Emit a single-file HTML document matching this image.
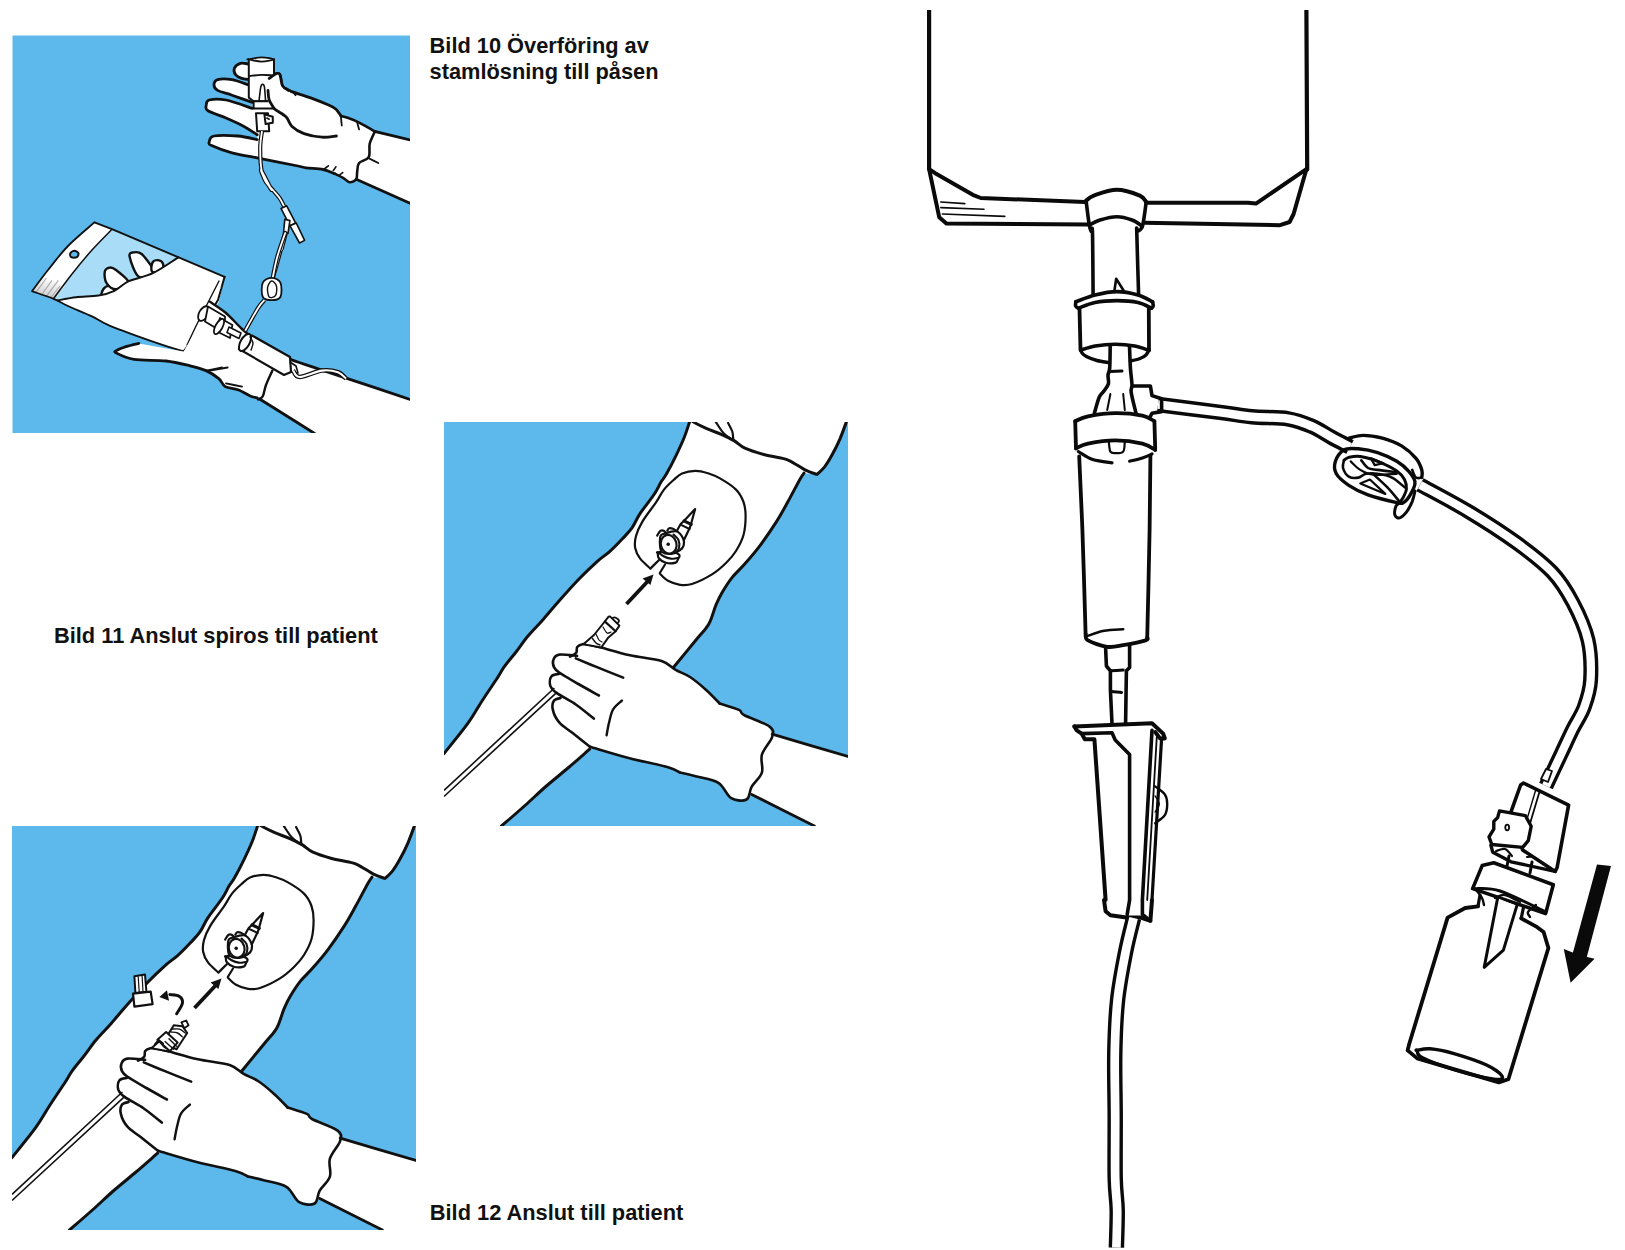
<!DOCTYPE html>
<html><head><meta charset="utf-8">
<style>
html,body{margin:0;padding:0;background:#fff;width:1625px;height:1250px;overflow:hidden;}
.t{position:absolute;font-family:"Liberation Sans",sans-serif;font-weight:bold;font-size:21.8px;color:#111;white-space:nowrap;line-height:25.6px;}
svg{position:absolute;left:0;top:0;}
</style></head><body>
<div class="t" style="left:429.6px;top:33px;">Bild 10 Överföring av<br>stamlösning till påsen</div>
<div class="t" style="left:54px;top:622.5px;">Bild 11 Anslut spiros till patient</div>
<div class="t" style="left:429.8px;top:1200.3px;">Bild 12 Anslut till patient</div>
<svg width="1625" height="1250" viewBox="0 0 1625 1250">
<defs>
<clipPath id="c2"><rect x="444" y="422" width="404" height="404"/></clipPath>
<g id="arm">
<rect x="444" y="422" width="404" height="404" fill="#5db9ec"/>
<g clip-path="url(#c2)">
<path fill="#fff" d="M691 418 L689.6 422 L684 438 L676 455.6 L666.4 474 L661 482 L654.4 494 L640 513.6 L632 527.9 L622.4 538.8 L609.6 551.6 L596.8 561.8 L579.5 578.5 L559.2 600.8 L543.2 619.4 L528 636 L516 652 L504 667.2 L496 680 L482 701 L468 723.2 L444 753.6 L440 760 L440 830 L501.6 830 L501.5 826 L525 805.5 L546.4 786 L568 768 L589.6 749.2 L673.6 667.2 L696 640 L708.8 624 L716 604.8 L722.4 592 L732 577.6 L744 564.8 L760 545.6 L776 522.4 L788 501.6 L800 479.2 L804 473.2 L817 474.4 L824.4 467.1 L831.7 455.6 L840 438.8 L846.3 422.1 L848 418 L690 418Z"/>
<path fill="#fff" d="M570 656.6 L576.2 652.8 L577.2 647 L582.5 644.2 L589.2 644.6 L601.2 647.5 L630 655.2 L661.6 661 L675.7 669.9 L690 677 L705.6 689.4 L719.7 703.5 L738.9 709.9 L744 715 L769.6 726.6 L772.2 736.8 L772.2 734.2 L848 756.5 L852 756.5 L852 830 L814.4 830 L814.4 826 L751.7 794.4 L746.6 799.5 L731.2 798.2 L718.4 782.9 L696.6 776.5 L680 772.6 L668 767.2 L629.6 758.2 L589.9 746.7 L572 732.6 L559.2 722.4 L552.8 709.6 L554.1 700.6 L560.5 698.1 L556.6 692.9 L550.2 685.3 L551.5 676.3 L559.2 673.8 L559.2 672.5 L554.1 667.4 L553.4 659.7 L559.2 654.6 L577.1 655.8Z"/>
<path fill="none" stroke="#111" stroke-width="3" stroke-linecap="round" stroke-linejoin="round" d="M691 418C690.8 418.7 690.8 418.7 689.6 422C688.4 425.3 686.3 432.4 684 438C681.7 443.6 678.9 449.6 676 455.6C673.1 461.6 668.9 469.6 666.4 474C663.9 478.4 663 478.7 661 482C659 485.3 657.9 488.7 654.4 494C650.9 499.3 643.7 508 640 513.6C636.3 519.2 634.9 523.7 632 527.9C629.1 532.1 626.1 534.8 622.4 538.8C618.7 542.8 613.9 547.8 609.6 551.6C605.3 555.4 601.8 557.3 596.8 561.8C591.8 566.3 585.8 572 579.5 578.5C573.2 585 565.2 594 559.2 600.8C553.2 607.6 548.4 613.5 543.2 619.4C538 625.3 532.5 630.6 528 636C523.5 641.4 520 646.8 516 652C512 657.2 507.3 662.5 504 667.2C500.7 671.9 499.7 674.4 496 680C492.3 685.6 486.7 693.8 482 701C477.3 708.2 474.3 714.4 468 723.2C461.7 732 448 748.5 444 753.6M501.5 826C505.4 822.6 517.5 812.2 525 805.5C532.5 798.8 539.2 792.2 546.4 786C553.6 779.8 560.8 774.1 568 768C575.2 761.9 586 752.3 589.6 749.2M673.6 667.2C677.3 662.7 690.1 647.2 696 640C701.9 632.8 705.5 629.9 708.8 624C712.1 618.1 713.7 610.1 716 604.8C718.3 599.5 719.7 596.5 722.4 592C725.1 587.5 728.4 582.1 732 577.6C735.6 573.1 739.3 570.1 744 564.8C748.7 559.5 754.7 552.7 760 545.6C765.3 538.5 771.3 529.7 776 522.4C780.7 515.1 784 508.8 788 501.6C792 494.4 797.3 483.9 800 479.2C802.7 474.5 803.3 474.2 804 473.2M690 418C690.6 418.7 690.9 420.4 693.6 422.1C696.3 423.8 701.5 426.3 706.2 428.4C710.9 430.5 717.1 432.5 721.8 434.6C726.5 436.7 730.5 438.6 734.4 440.9C738.2 443.2 740 445.9 744.9 448.2C749.8 450.5 758 452.9 763.7 454.5C769.5 456.1 775 456.6 779.4 457.7C783.8 458.8 785.4 458.7 789.8 460.8C794.1 462.9 801 467.9 805.5 470.2C810 472.5 815.1 473.7 817 474.4C818.2 473.2 821.9 470.2 824.4 467.1C826.9 464 829.1 460.3 831.7 455.6C834.3 450.9 837.6 444.4 840 438.8C842.4 433.2 845 425.7 846.3 422.1C847.6 418.5 847.7 417.9 848 417"/>
<path fill="none" stroke="#111" stroke-width="2.2" stroke-linecap="round" stroke-linejoin="round" d="M715.6 421.6C717 423.6 721.1 430.6 723.9 433.6C726.7 436.7 730.9 438.8 732.3 439.9M728.1 423.1C728.8 424.5 731.4 428.7 732.3 431.5C733.2 434.3 733.1 438.5 733.3 439.9M650.4 568.6C648.7 566.9 642.5 561.8 640 558.4C637.5 555 635.9 551.7 635.2 548C634.5 544.3 634.8 540.4 636 536C637.2 531.6 639.1 527.2 642.4 521.6C645.7 516 652.4 507.7 656 502.4C659.6 497.1 661.1 493.3 664 489.6C666.9 485.9 670.6 482.7 673.6 480C676.6 477.3 678.4 475.1 682 473.6C685.6 472.1 690.9 470.9 695.2 470.8C699.5 470.7 703.9 471.9 708 473.2C712.1 474.5 715.3 475.7 720 478.4C724.7 481.1 732.1 485.7 736 489.6C739.9 493.5 741.9 497.6 743.5 502C745.1 506.4 745.6 510.5 745.6 516C745.6 521.5 745.1 529.2 743.5 535C741.9 540.8 738.9 546.3 736 551C733.1 555.7 730 559.1 726 563C722 566.9 717.7 570.9 712 574.4C706.3 577.9 697.3 582.3 692 584C686.7 585.7 684 585.3 680 584.8C676 584.3 671.3 582.6 668 580.8C664.7 579 661.3 575 660 573.8M650.4 568.6C651.8 567.2 657.4 561.6 658.8 560.2M659.8 573.1C660.7 571.7 664.1 565.9 665 564.5"/>
<path fill="none" stroke="#111" stroke-width="2.6" stroke-linecap="round" stroke-linejoin="round" d="M570 656.6C571 656 575 654.4 576.2 652.8C577.4 651.2 576.2 648.4 577.2 647C578.2 645.6 580.5 644.6 582.5 644.2C584.5 643.8 586.1 644.1 589.2 644.6C592.3 645.1 594.4 645.7 601.2 647.5C608 649.3 619.9 653 630 655.2C640.1 657.5 654 658.5 661.6 661C669.2 663.5 671 667.2 675.7 669.9C680.4 672.6 685 673.8 690 677C695 680.2 700.6 685 705.6 689.4C710.6 693.8 717.4 701.1 719.7 703.5"/>
<path fill="none" stroke="#111" stroke-width="2.6" stroke-linecap="round" stroke-linejoin="round" d="M719.7 703.5C722.9 704.6 734.9 708 738.9 709.9C742.9 711.8 738.9 712.2 744 715C749.1 717.8 764.9 723 769.6 726.6C774.3 730.2 773.5 732.1 772.2 736.8C770.9 741.5 763.6 748.7 761.9 754.7C760.2 760.7 763.6 767.3 761.9 772.6C760.2 777.9 754.2 782.2 751.7 786.7C749.2 791.2 750 797.6 746.6 799.5C743.2 801.4 735.9 801 731.2 798.2C726.5 795.4 724.2 786.5 718.4 782.9C712.6 779.3 703 778.2 696.6 776.5C690.2 774.8 682.8 773.2 680 772.6"/>
<path fill="none" stroke="#111" stroke-width="2.6" stroke-linecap="round" stroke-linejoin="round" d="M680 772.6C678 771.7 676.4 769.6 668 767.2C659.6 764.8 642.6 761.6 629.6 758.2C616.6 754.8 596.5 748.6 589.9 746.7"/>
<path fill="none" stroke="#111" stroke-width="2.6" stroke-linecap="round" stroke-linejoin="round" d="M560.5 698.1C559.4 698.5 555.4 698.7 554.1 700.6C552.8 702.5 551.9 706 552.8 709.6C553.6 713.2 556 718.6 559.2 722.4C562.4 726.2 566.9 728.5 572 732.6C577.1 736.7 586.9 744.4 589.9 746.7"/>
<path fill="none" stroke="#111" stroke-width="2.6" stroke-linecap="round" stroke-linejoin="round" d="M559.2 673.8C557.9 674.2 553 674.4 551.5 676.3C550 678.2 549.4 682.5 550.2 685.3C551.1 688.1 552.3 689.7 556.6 692.9C560.9 696.1 569.6 700.2 575.8 704.5C582 708.8 590.8 716.2 593.8 718.6"/>
<path fill="none" stroke="#111" stroke-width="2.6" stroke-linecap="round" stroke-linejoin="round" d="M577.1 655.8C574.1 655.6 563.2 654 559.2 654.6C555.2 655.2 554.2 657.6 553.4 659.7C552.5 661.8 553.1 665.3 554.1 667.4C555.1 669.5 555.2 669.7 559.2 672.5C563.2 675.3 571.8 680.2 578.4 684C585 687.8 595.5 693.6 598.9 695.5"/>
<path fill="none" stroke="#111" stroke-width="2.6" stroke-linecap="round" stroke-linejoin="round" d="M575.8 658.4C579.4 659.9 589.7 664.2 597.6 667.4C605.5 670.6 618.9 675.9 623.2 677.6"/>
<path fill="none" stroke="#111" stroke-width="2.4" stroke-linecap="round" stroke-linejoin="round" d="M621.9 700.6C620.4 702.1 615.1 706 613 709.6C610.9 713.2 610.2 718.1 609.1 722.4C608 726.7 607 733.1 606.6 735.2"/>
<path fill="none" stroke="#111" stroke-width="2.8" stroke-linecap="round" stroke-linejoin="round" d="M772.2 734.2C784.8 737.9 835.4 752.8 848 756.5"/>
<path fill="none" stroke="#111" stroke-width="2.8" stroke-linecap="round" stroke-linejoin="round" d="M751.7 794.4C762.2 799.7 804 820.7 814.4 826"/>
<path fill="none" stroke="#111" stroke-width="1.6" d="M444 790.4 L554.4 688M444 796.5 L556 693.1"/>
<path fill="none" stroke="#111" stroke-width="3.8" stroke-linecap="butt" stroke-linejoin="round" d="M626.5 604 L647.8 581.3"/>
<path fill="#111" d="M653.5 574.6 L642.6 578.4 L650.4 585Z"/>
<path fill="#fff" stroke="#111" stroke-width="2.2" stroke-linecap="round" stroke-linejoin="round" d="M676.9 530.7 L680.7 524 L684.6 520.2 L695.1 509.1 L691.3 523 L689.8 527.8 L683.6 540.8Z"/>
<path fill="none" stroke="#111" stroke-width="3" stroke-linecap="round" stroke-linejoin="round" d="M684 520.8 L691.3 524.4"/>
<path fill="none" stroke="#111" stroke-width="2" stroke-linecap="round" stroke-linejoin="round" d="M681 524.8 L689.6 529"/>
<path fill="#fff" stroke="#111" stroke-width="2.2" stroke-linecap="round" stroke-linejoin="round" d="M657.8 552.5C658 553.5 657.3 556.5 658.8 558.2C660.2 560 663.7 562.3 666.5 563C669.3 563.7 673.7 563.2 675.6 562.6C677.5 562 677.4 560.5 678 559.2C678.6 557.9 680.7 556 679 554.6C677.3 553.2 671.5 551.4 668 551C664.5 550.6 659.5 552.2 657.8 552.5C656.1 552.8 657.6 551.5 657.8 552.5Z"/>
<path fill="none" stroke="#111" stroke-width="2.2" stroke-linecap="round" stroke-linejoin="round" d="M658.8 552.8C659.6 553.4 661.6 555.3 663.6 556.3C665.6 557.3 668.5 558.4 670.8 558.7C673.1 559 676.4 558.1 677.5 558"/>
<path fill="#fff" stroke="#111" stroke-width="2.2" stroke-linecap="round" stroke-linejoin="round" d="M660.6 536C661.3 534.1 661.8 534.4 664.4 533.6C667 532.8 673.3 530.4 676.4 531.2C679.5 532 681.9 536 683.1 538.4C684.3 540.8 684.2 543.6 683.6 545.6C683 547.6 681.8 549 679.8 550.4C677.8 551.8 674.6 553.5 671.6 553.8C668.6 554.1 663.9 553.5 662 552C660.1 550.5 660.2 547.7 660 545C659.8 542.3 659.9 537.9 660.6 536Z"/>
<path fill="none" stroke="#111" stroke-width="2.2" stroke-linecap="round" stroke-linejoin="round" d="M657.2 535.5C657.8 534.7 659.4 531.4 660.6 530.7C661.8 530 663.5 530.6 664.4 531.2C665.3 531.8 665.6 533.6 665.8 534.1"/>
<path fill="none" stroke="#111" stroke-width="2.2" stroke-linecap="round" stroke-linejoin="round" d="M667.3 530.7C667.6 530.3 668.2 528.6 669.2 528.3C670.2 528 671.7 528.3 673 528.8C674.3 529.3 676.2 530.8 676.9 531.2"/>
<ellipse cx="668.7" cy="544.2" rx="7.8" ry="9.4" transform="rotate(-15 668.7 544.2)" fill="#fff" stroke="#111" stroke-width="2.2"/>
<path fill="none" stroke="#111" stroke-width="2" stroke-linecap="round" stroke-linejoin="round" d="M673.5 534.5C674.3 535.4 677.6 537.8 678.5 540C679.4 542.2 679.6 545.8 679 548C678.4 550.2 675.7 552.2 675 553"/>
<circle cx="668.2" cy="544.2" r="1.8" fill="#111"/>
<path fill="#fff" stroke="#111" stroke-width="2" stroke-linecap="round" stroke-linejoin="round" d="M583.4 644.2 L594 635 L603.6 623 L608.4 616.8 L610 616.4 L619.4 625.6 L619 626.4 L615.6 631.2 L608.4 637.4 L601.2 647.5Z"/>
<path fill="none" stroke="#111" stroke-width="2.2" stroke-linecap="round" stroke-linejoin="round" d="M605 621.6 L615.6 631.2"/>
<path fill="none" stroke="#111" stroke-width="1.8" stroke-linecap="round" stroke-linejoin="round" d="M612.3 618.2C612.7 618.1 613.6 617.1 614.6 617.3C615.6 617.5 617.3 618.6 618 619.2C618.7 619.8 619.1 620.5 619 621.1C618.9 621.7 617.8 622.7 617.5 623"/>
<path fill="none" stroke="#111" stroke-width="1.2" stroke-linecap="round" stroke-linejoin="round" d="M603 627C603.7 628 605.7 632.2 607 633C608.3 633.8 610.3 632.2 611 632"/>
<path fill="none" stroke="#111" stroke-width="1.4" stroke-linecap="round" stroke-linejoin="round" d="M592.5 638.5C593.1 639.2 594.8 641.9 596 643C597.2 644.1 599.3 644.7 600 645"/>
<path fill="none" stroke="#111" stroke-width="1.2" stroke-linecap="round" stroke-linejoin="round" d="M596 634C596.5 635 598 638.7 599 640C600 641.3 601.5 641.7 602 642"/>
</g>
</g>
</defs>
<clipPath id="c1"><rect x="12.5" y="35.5" width="397.5" height="397.5"/></clipPath>
<rect x="12.5" y="35.5" width="397.5" height="397.5" fill="#5db9ec"/>
<g clip-path="url(#c1)">
<path fill="#fff" d="M269.2 78.4 L276.4 73.6 L280 74.8 L282.4 85.6 L288.4 90.4 L310 97.6 L328 104.8 L336 109.2 L340.9 115.9 L340.9 115.9 L347.6 117.8 L359.1 122.6 L374.5 131.3 L374.5 131.3 L410 139.9 L414 139.9 L414 205 L410 203.3 L356.2 179.3 L356.2 179.3 L349.5 182.2 L343.8 178.3 L334.2 173.5 L334.2 173.5 L323 169.5 L306 167.8 L298 166 L262 158.8 L232 152.8 L211.6 145.6 L209.2 142 L214 136 L238 136 L257.2 139.6 L257.2 134.8 L244 126.4 L226 118 L208 110.8 L206.2 105.4 L209.2 100 L226 100 L252.4 108.4 L252.4 102.4 L232 95.2 L217.6 90.4 L214 85 L217.6 79.6 L232 79.6 L248.8 85 L248.8 79.6 L241.6 78.4 L235.6 74.8 L234.4 68.2 L240.4 63.4 L248.8 64 L248.8 58 L274 58 L274 76Z"/>
<path fill="none" stroke="#111" stroke-width="2.8" stroke-linecap="round" stroke-linejoin="round" d="M269.2 78.4C270.4 77.6 274.6 74.2 276.4 73.6C278.2 73 279 72.8 280 74.8C281 76.8 281 83 282.4 85.6C283.8 88.2 283.8 88.4 288.4 90.4C293 92.4 303.4 95.2 310 97.6C316.6 100 323.7 102.9 328 104.8C332.3 106.7 333.9 107.3 336 109.2C338.1 111.1 340.1 114.8 340.9 115.9"/>
<path fill="none" stroke="#111" stroke-width="2.6" stroke-linecap="round" stroke-linejoin="round" d="M340.9 115.9C342 116.2 344.6 116.7 347.6 117.8C350.6 118.9 354.6 120.3 359.1 122.6C363.6 124.8 371.9 129.7 374.5 131.3C377.1 132.9 375.3 130.1 374.5 132.2C373.7 134.3 370.7 139.6 369.7 143.8C368.7 148 370.5 154 368.7 157.2C366.9 160.4 361 160.6 359.1 163C357.2 165.4 357.7 168.9 357.2 171.6C356.7 174.3 357.5 177.5 356.2 179.3C354.9 181.1 351.6 182.4 349.5 182.2C347.4 182 346.4 179.8 343.8 178.3C341.2 176.9 335.8 174.3 334.2 173.5"/>
<path fill="none" stroke="#111" stroke-width="2.8" stroke-linecap="round" stroke-linejoin="round" d="M374.5 131.3C380.4 132.7 404.1 138.5 410 139.9"/>
<path fill="none" stroke="#111" stroke-width="2.8" stroke-linecap="round" stroke-linejoin="round" d="M356.2 179.3C365.2 183.3 401 199.3 410 203.3"/>
<path fill="none" stroke="#111" stroke-width="2.8" stroke-linecap="round" stroke-linejoin="round" d="M334.2 173.5C332.3 172.8 327.7 170.4 323 169.5C318.3 168.6 310.2 168.4 306 167.8C301.8 167.2 305.3 167.5 298 166C290.7 164.5 273 161 262 158.8C251 156.6 240.4 155 232 152.8C223.6 150.6 215.4 147.4 211.6 145.6C207.8 143.8 208.8 143.6 209.2 142C209.6 140.4 209.2 137 214 136C218.8 135 230.8 135.4 238 136C245.2 136.6 254 139 257.2 139.6"/>
<path fill="none" stroke="#111" stroke-width="2.8" stroke-linecap="round" stroke-linejoin="round" d="M257.2 134.8C255 133.4 249.2 129.2 244 126.4C238.8 123.6 232 120.6 226 118C220 115.4 211.3 112.9 208 110.8C204.7 108.7 206 107.2 206.2 105.4C206.4 103.6 205.9 100.9 209.2 100C212.5 99.1 218.8 98.6 226 100C233.2 101.4 248 107 252.4 108.4"/>
<path fill="none" stroke="#111" stroke-width="2.8" stroke-linecap="round" stroke-linejoin="round" d="M252.4 102.4C249 101.2 237.8 97.2 232 95.2C226.2 93.2 220.6 92.1 217.6 90.4C214.6 88.7 214 86.8 214 85C214 83.2 214.6 80.5 217.6 79.6C220.6 78.7 226.8 78.7 232 79.6C237.2 80.5 246 84.1 248.8 85"/>
<path fill="none" stroke="#111" stroke-width="2.8" stroke-linecap="round" stroke-linejoin="round" d="M248.8 79.6C247.6 79.4 243.8 79.2 241.6 78.4C239.4 77.6 236.8 76.5 235.6 74.8C234.4 73.1 233.6 70.1 234.4 68.2C235.2 66.3 238 64.1 240.4 63.4C242.8 62.7 247.4 63.9 248.8 64"/>
<path fill="none" stroke="#111" stroke-width="2.8" stroke-linecap="round" stroke-linejoin="round" d="M268 90.4C268.2 92 268.2 97 269.2 100C270.2 103 271.2 105.6 274 108.4C276.8 111.2 283 113.8 286 116.8C289 119.8 289 123.6 292 126.4C295 129.2 299 131.8 304 133.6C309 135.4 316.6 136.8 322 137.2C327.4 137.6 334 136.2 336.4 136"/>
<path fill="none" stroke="#111" stroke-width="1.8" stroke-linecap="round" stroke-linejoin="round" d="M286 88C287 88.6 290.4 90.4 292 91.6C293.6 92.8 295 94.6 295.6 95.2"/>
<path fill="none" stroke="#111" stroke-width="1.8" stroke-linecap="round" stroke-linejoin="round" d="M340.9 115.9C341 117.5 341.6 123.9 341.8 125.5"/>
<path fill="none" stroke="#111" stroke-width="1.8" stroke-linecap="round" stroke-linejoin="round" d="M357.2 122.6C357.5 123.7 358.8 128.3 359.1 129.4"/>
<path fill="none" stroke="#111" stroke-width="1.8" stroke-linecap="round" stroke-linejoin="round" d="M368.7 158.2C370.3 159 376.7 162.2 378.3 163"/>
<path fill="none" stroke="#111" stroke-width="1.6" stroke-linecap="round" stroke-linejoin="round" d="M324.6 168.7C325.2 168.2 327.8 166.3 328.4 165.8"/>
<path fill="none" stroke="#111" stroke-width="1.6" stroke-linecap="round" stroke-linejoin="round" d="M333.2 170.6C333.7 170 335.5 167.4 336 166.8"/>
<path fill="none" stroke="#111" stroke-width="1.6" stroke-linecap="round" stroke-linejoin="round" d="M339.9 174.5C340.4 174.2 342.3 172.9 342.8 172.6"/>
<path fill="#fff" stroke="#111" stroke-width="2" stroke-linecap="round" stroke-linejoin="round" d="M248.8 59.2 L248.8 97.6 L253.6 101.2 L271.6 101.2 L274 97.6 L274 59.2"/>
<path fill="none" stroke="#111" stroke-width="1.8" stroke-linecap="round" stroke-linejoin="round" d="M248.8 59.2C250.9 58.9 257.2 57.4 261.4 57.4C265.6 57.4 274 58.5 274 59.2C274 59.9 265.6 61.6 261.4 61.6C257.2 61.6 250.9 59.6 248.8 59.2C246.7 58.8 246.7 59.5 248.8 59.2Z"/>
<path fill="none" stroke="#111" stroke-width="1.8" stroke-linecap="round" stroke-linejoin="round" d="M250 76C251.9 75.8 257.6 74.9 261.4 74.8C265.2 74.7 270.9 75.3 272.8 75.4"/>
<path fill="none" stroke="#111" stroke-width="1.6" stroke-linecap="round" stroke-linejoin="round" d="M259 101.2C259.3 98.8 260.2 89.6 260.8 86.8C261.4 84 262 84.4 262.6 84.4C263.2 84.4 263.9 84 264.4 86.8C264.9 89.6 265.4 98.8 265.6 101.2"/>
<path fill="#fff" stroke="#111" stroke-width="2" stroke-linecap="round" stroke-linejoin="round" d="M253.6 101.2 L272.8 101.2 L272.8 108.4 L253.6 108.4Z"/>
<path fill="#fff" d="M269.2 78.4C270.6 76 274.6 74.2 276.4 73.6C278.2 73 279 72.8 280 74.8C281 76.8 281 83 282.4 85.6C283.8 88.2 286.8 88 288.4 90.4C290 92.8 294.4 97.2 292 100C289.6 102.8 278 107.2 274 107.2C270 107.2 269 103.2 268 100C267 96.8 267.8 91.6 268 88C268.2 84.4 267.8 80.8 269.2 78.4Z"/>
<path fill="none" stroke="#111" stroke-width="2.8" stroke-linecap="round" stroke-linejoin="round" d="M269.2 78.4C270.4 77.6 274.6 74.2 276.4 73.6C278.2 73 279 72.8 280 74.8C281 76.8 281 83 282.4 85.6C283.8 88.2 287.4 89.6 288.4 90.4"/>
<path fill="none" stroke="#111" stroke-width="2.8" stroke-linecap="round" stroke-linejoin="round" d="M268 90.4C268.2 92 268.2 97 269.2 100C270.2 103 273.2 107 274 108.4"/>
<path fill="#fff" stroke="#111" stroke-width="2" stroke-linecap="round" stroke-linejoin="round" d="M256 113.2 L268 113.2 L269.2 131.2 L257.2 131.2Z"/>
<path fill="#fff" stroke="#111" stroke-width="2" stroke-linecap="round" stroke-linejoin="round" d="M264.4 114.4 L272.8 116.8 L272.8 122.8 L265.6 124Z"/>
<path fill="none" stroke="#111" stroke-width="1.6" stroke-linecap="round" stroke-linejoin="round" d="M266.8 118 L269.2 119.2"/>
<path fill="none" stroke="#111" stroke-width="4.2" stroke-linecap="butt" d="M262 131.2C261.7 134 260.2 141.2 260.2 148C260.2 154.8 260.1 165 262 172C263.9 179 271.7 190.3 271.6 190C271.5 189.7 262.1 171.4 261.1 170C260.1 168.6 263.6 178.1 265.6 181.5C267.6 184.9 270.9 187.7 273.3 190.5C275.6 193.3 277.9 195.5 279.7 198.2C281.5 200.8 283.4 205.1 284.2 206.5"/>
<path fill="none" stroke="#fff" stroke-width="1.8000000000000003" stroke-linecap="butt" d="M262 131.2C261.7 134 260.2 141.2 260.2 148C260.2 154.8 260.1 165 262 172C263.9 179 271.7 190.3 271.6 190C271.5 189.7 262.1 171.4 261.1 170C260.1 168.6 263.6 178.1 265.6 181.5C267.6 184.9 270.9 187.7 273.3 190.5C275.6 193.3 277.9 195.5 279.7 198.2C281.5 200.8 283.4 205.1 284.2 206.5"/>
<path fill="#fff" stroke="#111" stroke-width="1.6" stroke-linecap="round" stroke-linejoin="round" d="M281 208.4 L286.7 205.8 L295.7 223.1 L289.9 225.7Z"/>
<path fill="#fff" stroke="#111" stroke-width="1.6" stroke-linecap="round" stroke-linejoin="round" d="M289.9 225.7 L296.3 223.1 L304.6 240.4 L299.5 243Z"/>
<path fill="#fff" stroke="#111" stroke-width="1.6" stroke-linecap="round" stroke-linejoin="round" d="M284.8 219.3 L289.9 220.6 L288 233.4 L283.5 232.7Z"/>
<path fill="none" stroke="#111" stroke-width="4.2" stroke-linecap="butt" d="M285.8 233C285.1 235.9 281.7 250 281.6 250C281.5 250 285.7 231.8 285.2 233C284.7 234.2 280.9 249.3 278.8 257C276.7 264.7 273.5 275.7 272.4 279.4"/>
<path fill="none" stroke="#fff" stroke-width="1.8000000000000003" stroke-linecap="butt" d="M285.8 233C285.1 235.9 281.7 250 281.6 250C281.5 250 285.7 231.8 285.2 233C284.7 234.2 280.9 249.3 278.8 257C276.7 264.7 273.5 275.7 272.4 279.4"/>
<path fill="#fff" d="M94.4 222.4 L112 229.2 L224.6 276.8 L218.8 301.8 L206 322.6 L194.8 337 L183.6 351.4 L158 343.4 L110 325.8 L92 316.4 L53.6 298.8 L32 291.2 L48 270 L68 246Z"/>
<path fill="#a9dcf7" d="M112 229.2 L140 241.3 L178.4 257.4 L152.8 273.2 L128.8 281.2 L114.4 290.8 L98.4 295.6 L76 297.2 L57.6 300.4 L53.6 298.5 L72 274 L92 250Z"/>
<path fill="#fff" stroke="#111" stroke-width="2.4" stroke-linecap="round" stroke-linejoin="round" d="M101.6 294.8C100.9 293.7 102.7 289.9 104 288.4C105.3 286.9 107.9 285.6 109.6 286C111.3 286.4 114.7 289.3 114.4 290.8C114.1 292.3 110.1 294.1 108 294.8C105.9 295.5 102.3 295.9 101.6 294.8Z"/>
<path fill="#fff" stroke="#111" stroke-width="2.4" stroke-linecap="round" stroke-linejoin="round" d="M106.4 282.8C104.5 279.9 104.3 274.1 104.8 271.6C105.3 269.1 107.7 267.9 109.6 267.6C111.5 267.3 112.8 267.5 116 270C119.2 272.5 128.8 279.6 128.8 282.8C128.8 286 119.7 289.2 116 289.2C112.3 289.2 108.3 285.7 106.4 282.8Z"/>
<path fill="#fff" stroke="#111" stroke-width="2.4" stroke-linecap="round" stroke-linejoin="round" d="M138.4 276.4C134.5 273.3 130.4 260.4 129.6 256.4C128.8 252.4 131.6 252.8 133.6 252.4C135.6 252 138.4 251.3 141.6 254C144.8 256.7 150.9 264.9 152.8 268.4C154.7 271.9 155.2 273.5 152.8 274.8C150.4 276.1 142.3 279.5 138.4 276.4Z"/>
<path fill="#fff" stroke="#111" stroke-width="2.4" stroke-linecap="round" stroke-linejoin="round" d="M152 271.6C150.5 270 151.6 263.9 152.8 262C154 260.1 157.5 260 159.2 260.4C160.9 260.8 162.8 262.5 163.2 264.4C163.6 266.3 163.5 270.4 161.6 271.6C159.7 272.8 153.5 273.2 152 271.6Z"/>
<path fill="#fff" d="M57.6 300.4 L76 297.2 L98.4 295.6 L114.4 290.8 L128.8 281.2 L152.8 273.2 L178.4 257.4 L224.6 276.8 L218.8 301.8 L206 322.6 L194.8 337 L183.6 351.4 L158 343.4 L110 325.8 L92 316.4 L55.2 300.4Z"/>
<path fill="none" stroke="#111" stroke-width="2.0" stroke-linecap="round" stroke-linejoin="round" d="M57.6 300.4C60.7 299.9 69.2 298 76 297.2C82.8 296.4 92 296.7 98.4 295.6C104.8 294.5 109.3 293.2 114.4 290.8C119.5 288.4 122.4 284.1 128.8 281.2C135.2 278.3 144.5 277.2 152.8 273.2C161.1 269.2 174.1 260 178.4 257.4"/>
<path fill="#fff" d="M94.4 222.4C97.3 223.5 109.1 228.1 112 229.2C108.7 232.7 98.7 242.5 92 250C85.3 257.5 78.4 265.9 72 274C65.6 282.1 56.7 294.4 53.6 298.5C50 297.3 35.6 292.4 32 291.2C34.7 287.7 42 277.5 48 270C54 262.5 60.3 253.9 68 246C75.7 238.1 90 226.3 94.4 222.4Z"/>
<defs><linearGradient id="hg" x1="0" y1="1" x2="0.35" y2="0"><stop offset="0" stop-color="#b0b0b0"/><stop offset="1" stop-color="#fff"/></linearGradient></defs>
<path fill="url(#hg)" opacity="0.8" d="M31.2 291.6 L54.4 299.6 L64.8 286 L44 276.4Z"/>
<path fill="none" stroke="#999" stroke-width="1.1" opacity="0.8" d="M36 292.4 L46.4 278"/>
<path fill="none" stroke="#999" stroke-width="1.1" opacity="0.8" d="M41.6 294.8 L52 280.4"/>
<path fill="none" stroke="#999" stroke-width="1.1" opacity="0.8" d="M46.4 296.4 L58.4 280.4"/>
<path fill="none" stroke="#999" stroke-width="1.1" opacity="0.8" d="M50.4 298 L60 286"/>
<path fill="#5db9ec" stroke="#111" stroke-width="2" stroke-linecap="round" stroke-linejoin="round" d="M74.4 250.8C75.7 250.8 78 252.1 78.4 253.2C78.8 254.3 78 256.5 76.8 257.2C75.6 257.9 72.3 257.9 71.2 257.2C70.1 256.5 69.9 254.3 70.4 253.2C70.9 252.1 73.1 250.8 74.4 250.8Z"/>
<path fill="none" stroke="#111" stroke-width="1.5" stroke-linecap="round" stroke-linejoin="round" d="M112 229.2C108.7 232.7 98.7 242.5 92 250C85.3 257.5 78.4 265.9 72 274C65.6 282.1 56.7 294.4 53.6 298.5"/>
<path fill="none" stroke="#111" stroke-width="1.9" stroke-linecap="round" stroke-linejoin="round" d="M94.4 222.4 L112 229.2 L224.6 276.8"/>
<path fill="none" stroke="#111" stroke-width="1.8" stroke-linecap="round" stroke-linejoin="round" d="M94.4 222.4C90 226.3 75.7 238.1 68 246C60.3 253.9 54 262.5 48 270C42 277.5 34.7 287.7 32 291.2C35.6 292.5 47.6 296.3 53.6 298.8C59.6 301.3 61.6 303.1 68 306C74.4 308.9 85 313.1 92 316.4C99 319.7 99 321.3 110 325.8C121 330.3 145.7 339.1 158 343.4C170.3 347.7 179.3 350.1 183.6 351.4"/>
<path fill="none" stroke="#111" stroke-width="2.0" stroke-linecap="round" stroke-linejoin="round" d="M224.6 276.8 L218 300 L206 320 L194.8 337 L183.6 351.4"/>
<path fill="none" stroke="#111" stroke-width="1.4" stroke-linecap="round" stroke-linejoin="round" d="M219 281 L196 326 L187 345"/>
<path fill="#fff" d="M138.8 343.4 L126 346.6 L116.4 350.6 L116.4 353 L134 359.4 L166 361 L190 365.8 L206 370.6 L218.8 378.6 L225.2 386.6 L238 389.8 L250.8 396.2 L257.2 397.8 L259.6 399 L286 415.5 L313 432.5 L320 437 L330 440 L420 440 L420 399 L410 399.4 L347.6 378.6 L314 367.4 L286.8 357.8 L258 341.8 L242 329 L226 313 L210 301.8 L222 285.8 L183.6 351.4Z"/>
<path fill="none" stroke="#111" stroke-width="2.8" stroke-linecap="round" stroke-linejoin="round" d="M138.8 343.4C136.7 343.9 129.7 345.4 126 346.6C122.3 347.8 118 349.5 116.4 350.6C114.8 351.7 113.5 351.5 116.4 353C119.3 354.5 125.7 358.1 134 359.4C142.3 360.7 156.7 359.9 166 361C175.3 362.1 183.3 364.2 190 365.8C196.7 367.4 201.2 368.5 206 370.6C210.8 372.7 215.6 375.9 218.8 378.6C222 381.3 222 384.7 225.2 386.6C228.4 388.5 233.7 388.2 238 389.8C242.3 391.4 247.6 394.9 250.8 396.2C254 397.5 256.1 397.5 257.2 397.8"/>
<path fill="none" stroke="#111" stroke-width="2.4" stroke-linecap="round" stroke-linejoin="round" d="M272.4 370.6C271.3 373 267.6 380.7 266 385C264.4 389.3 264.1 393.8 262.8 396.2C261.5 398.6 258.8 398.9 258 399.4"/>
<path fill="none" stroke="#111" stroke-width="2.8" stroke-linecap="round" stroke-linejoin="round" d="M259.6 399C264 401.8 277.1 409.9 286 415.5C294.9 421.1 307.3 428.9 313 432.5C318.7 436.1 318.8 436.2 320 437"/>
<path fill="none" stroke="#111" stroke-width="2.4" stroke-linecap="round" stroke-linejoin="round" d="M210 301.8C212.7 303.7 220.7 308.5 226 313C231.3 317.5 236.7 324.2 242 329C247.3 333.8 255.3 339.7 258 341.8"/>
<path fill="none" stroke="#111" stroke-width="2.8" stroke-linecap="round" stroke-linejoin="round" d="M258 341.8C262.8 344.5 277.5 353.5 286.8 357.8C296.1 362.1 303.9 363.9 314 367.4C324.1 370.9 331.6 373.3 347.6 378.6C363.6 383.9 399.6 395.9 410 399.4"/>
<path fill="none" stroke="#111" stroke-width="2" stroke-linecap="round" stroke-linejoin="round" d="M210 370.6C212.9 370.1 224.7 367.9 227.6 367.4"/>
<path fill="none" stroke="#111" stroke-width="1.8" stroke-linecap="round" stroke-linejoin="round" d="M226 383.4C228.7 383.9 239.3 386.1 242 386.6"/>
<path fill="none" stroke="#111" stroke-width="1.6" stroke-linecap="round" stroke-linejoin="round" d="M206 370.6C208.7 370.1 219.3 367.9 222 367.4"/>
<ellipse cx="203.6" cy="313.6" rx="4.5" ry="8" transform="rotate(29 203.6 313.6)" fill="#fff" stroke="#111" stroke-width="1.8"/>
<path fill="#fff" stroke="#111" stroke-width="1.8" stroke-linecap="round" stroke-linejoin="round" d="M208 306.5 L225 316.5 L225 333.6 L205 321.5Z"/>
<path fill="#fff" stroke="#111" stroke-width="1.8" stroke-linecap="round" stroke-linejoin="round" d="M220 318 L232.4 325 L230 338 L216 331Z"/>
<ellipse cx="219" cy="326.5" rx="3.5" ry="8.5" transform="rotate(29 219 326.5)" fill="#fff" stroke="#111" stroke-width="1.8"/>
<path fill="#fff" stroke="#111" stroke-width="1.6" stroke-linecap="round" stroke-linejoin="round" d="M229 327 L241 333 L239 338.5 L227 332.5Z"/>
<path fill="#fff" stroke="#111" stroke-width="2.2" stroke-linecap="round" stroke-linejoin="round" d="M252 335.5 L290 357 L291 372 L284 375 L239 349Z"/>
<ellipse cx="245" cy="342.5" rx="4.5" ry="9.5" transform="rotate(29 245 342.5)" fill="#fff" stroke="#111" stroke-width="2"/>
<path fill="none" stroke="#111" stroke-width="1.4" stroke-linecap="round" stroke-linejoin="round" d="M250 337C250.5 338 252.8 340.8 253 343C253.2 345.2 251.3 348.8 251 350"/>
<path fill="none" stroke="#111" stroke-width="1.6" stroke-linecap="round" stroke-linejoin="round" d="M290 362 L296 366 L298 373 L291 372"/>
<path fill="none" stroke="#111" stroke-width="4.5" stroke-linecap="butt" d="M293.2 370.6C294.3 371.7 294.8 377 299.6 377C304.4 377 315.6 371.4 322 370.6C328.4 369.8 334 370.9 338 372.2C342 373.5 344.7 377.5 346 378.6"/>
<path fill="none" stroke="#fff" stroke-width="2.1" stroke-linecap="butt" d="M293.2 370.6C294.3 371.7 294.8 377 299.6 377C304.4 377 315.6 371.4 322 370.6C328.4 369.8 334 370.9 338 372.2C342 373.5 344.7 377.5 346 378.6"/>
<path fill="none" stroke="#111" stroke-width="4.2" stroke-linecap="butt" d="M245.2 330.6C247.3 326.9 254.8 313.3 258 308.2C261.2 303.1 263.3 301.5 264.4 300.2"/>
<path fill="none" stroke="#fff" stroke-width="1.8000000000000003" stroke-linecap="butt" d="M245.2 330.6C247.3 326.9 254.8 313.3 258 308.2C261.2 303.1 263.3 301.5 264.4 300.2"/>
<path fill="none" stroke="#111" stroke-width="4.2" stroke-linecap="butt" d="M272.4 279.4C273.2 275.7 275.1 264.7 277.2 257C279.3 249.3 283.9 237 285.2 233"/>
<path fill="none" stroke="#fff" stroke-width="1.8000000000000003" stroke-linecap="butt" d="M272.4 279.4C273.2 275.7 275.1 264.7 277.2 257C279.3 249.3 283.9 237 285.2 233"/>
<path fill="#fff" stroke="#111" stroke-width="1.8" stroke-linecap="round" stroke-linejoin="round" d="M271.6 277.8C274.5 277.8 278.9 279.4 280.4 282.6C281.9 285.8 281.9 294.1 280.4 297C278.9 299.9 274.5 300.2 271.6 300.2C268.7 300.2 264.3 299.9 262.8 297C261.3 294.1 261.3 285.8 262.8 282.6C264.3 279.4 268.7 277.8 271.6 277.8Z"/>
<path fill="none" stroke="#111" stroke-width="1.4" stroke-linecap="round" stroke-linejoin="round" d="M271.6 281C273.1 280.7 275.7 283.4 276.4 285.8C277.1 288.2 276.8 293.5 275.6 295.4C274.4 297.3 270.5 298.3 269.2 297C267.9 295.7 267.2 290.1 267.6 287.4C268 284.7 270.1 281.3 271.6 281Z"/>
</g>
<use href="#arm"/>
<use href="#arm" transform="translate(-432,404)"/>
<path fill="#fff" d="M162 1045 L157 1030 L174 1013 L196 1013 L194 1042 L178 1048Z"/>
<path fill="#fff" stroke="#111" stroke-width="1.8" stroke-linecap="round" stroke-linejoin="round" d="M181.4 1022.4 L186.2 1020.5 L188.6 1025.3 L184.3 1028.2Z"/>
<path fill="#fff" stroke="#111" stroke-width="2" stroke-linecap="round" stroke-linejoin="round" d="M173.8 1025.3 L182.4 1026.2 L187.2 1033 L176.6 1049.3 L165.1 1042.6 L169 1033Z"/>
<path fill="#fff" stroke="#111" stroke-width="2" stroke-linecap="round" stroke-linejoin="round" d="M157.4 1039.7 L166.1 1032 L177.6 1042.6 L169.9 1051.2Z"/>
<path fill="none" stroke="#111" stroke-width="1.4" stroke-linecap="round" stroke-linejoin="round" d="M165.1 1041.6C166.6 1042.9 172.3 1048 173.8 1049.3"/>
<path fill="none" stroke="#111" stroke-width="1.4" stroke-linecap="round" stroke-linejoin="round" d="M169 1038.7C170.2 1040 175.4 1045.1 176.6 1046.4"/>
<path fill="none" stroke="#111" stroke-width="1.4" stroke-linecap="round" stroke-linejoin="round" d="M171.8 1029.1C173.1 1029.1 177.3 1028.5 179.5 1029.1C181.8 1029.8 184.3 1032.3 185.3 1033"/>
<path fill="none" stroke="#111" stroke-width="1.4" stroke-linecap="round" stroke-linejoin="round" d="M170.9 1032C172 1032.2 175.7 1032.2 177.6 1033C179.5 1033.8 181.6 1036.2 182.4 1036.8"/>
<path fill="none" stroke="#111" stroke-width="1.6" stroke-linecap="round" stroke-linejoin="round" d="M154.6 1044.5 L158.4 1039.7 L163.2 1043.5"/>
<path fill="#fff" stroke="#111" stroke-width="2" stroke-linecap="round" stroke-linejoin="round" d="M134.4 976.3 L145 974.4 L146.4 991.7 L135.4 993.1Z"/>
<path fill="none" stroke="#111" stroke-width="1.2" stroke-linecap="round" stroke-linejoin="round" d="M138.2 976.8 L139.2 991.7"/>
<path fill="none" stroke="#111" stroke-width="1.2" stroke-linecap="round" stroke-linejoin="round" d="M142.1 975.8 L143 991.7"/>
<path fill="#fff" stroke="#111" stroke-width="2.2" stroke-linecap="round" stroke-linejoin="round" d="M133 993.6 L150.7 991.7 L152.6 1004.2 L134.4 1006.6Z"/>
<path fill="none" stroke="#111" stroke-width="3" stroke-linecap="round" stroke-linejoin="round" d="M176.6 1013.8C177.6 1012 181.9 1006.1 182.4 1003.2C182.9 1000.3 181.6 997.9 179.5 996.5C177.4 995 171.5 994.9 169.9 994.6"/>
<path fill="#111" d="M159.4 997 L167 990.2 L169 1000.8Z"/>
<path fill="none" stroke="#0a0a0a" stroke-width="4.2" stroke-linecap="butt" stroke-linejoin="round" d="M929.1 9.9 L929.1 168 L929.1 169.2"/>
<path fill="none" stroke="#0a0a0a" stroke-width="4.2" stroke-linecap="butt" stroke-linejoin="round" d="M1306.4 9.9 L1307.2 169.6 L1306.4 169.2"/>
<path fill="none" stroke="#0a0a0a" stroke-width="4" stroke-linecap="round" stroke-linejoin="round" d="M929.1 169.2 L935.2 173.2 L972.8 194.8 L980.8 198 L1084.8 202"/>
<path fill="none" stroke="#0a0a0a" stroke-width="4" stroke-linecap="round" stroke-linejoin="round" d="M929.1 169.2 L939.2 217.2 L946.4 223.6 L1088.8 224.4"/>
<path fill="none" stroke="#0a0a0a" stroke-width="4" stroke-linecap="round" stroke-linejoin="round" d="M1146.4 202.8 L1248 202.8 L1256 203.6 L1306.4 169.2"/>
<path fill="none" stroke="#0a0a0a" stroke-width="4" stroke-linecap="round" stroke-linejoin="round" d="M1306.4 169.2 L1293.6 214 L1289.6 222 L1280 225.2 L1144 222.8"/>
<path fill="none" stroke="#0a0a0a" stroke-width="1.6" stroke-linecap="round" stroke-linejoin="round" d="M940.8 202 L964.8 203.6"/>
<path fill="none" stroke="#0a0a0a" stroke-width="1.6" stroke-linecap="round" stroke-linejoin="round" d="M940.8 207.6 L984 209.2"/>
<path fill="none" stroke="#0a0a0a" stroke-width="1.6" stroke-linecap="round" stroke-linejoin="round" d="M942.4 214 L1004.8 216.4"/>
<path fill="none" stroke="#0a0a0a" stroke-width="4" stroke-linecap="round" stroke-linejoin="round" d="M1086.1 200.7C1087.4 199.8 1088.7 197.4 1093.8 195.6C1098.9 193.8 1109.1 189.8 1116.8 189.8C1124.5 189.8 1134.9 193.6 1139.8 195.6C1144.7 197.6 1145.1 200.9 1146.2 202"/>
<path fill="none" stroke="#0a0a0a" stroke-width="3.6" stroke-linecap="round" stroke-linejoin="round" d="M1086.1 200.7C1086.6 204.8 1088.4 219.9 1089.3 225C1090.2 230.1 1090.7 230.1 1091.2 231.4C1091.7 232.7 1092.2 222.5 1092.5 233C1092.8 243.5 1093 284 1093.1 294.2"/>
<path fill="none" stroke="#0a0a0a" stroke-width="3.6" stroke-linecap="round" stroke-linejoin="round" d="M1146.2 202C1145.6 206.1 1143.9 221.4 1142.4 226.3C1140.9 231.2 1138.2 230.3 1137.3 231.4C1136.4 232.5 1136.6 222.5 1136.8 233C1137 243.5 1138.3 284 1138.6 294.2"/>
<path fill="none" stroke="#0a0a0a" stroke-width="3.6" stroke-linecap="round" stroke-linejoin="round" d="M1089.3 225C1091.1 224.2 1095.4 221.4 1100 220C1104.6 218.6 1111.5 216.7 1116.8 216.7C1122.1 216.7 1127.7 218.4 1132 220C1136.3 221.6 1140.7 225.2 1142.4 226.3"/>
<path fill="none" stroke="#0a0a0a" stroke-width="2.6" stroke-linecap="round" stroke-linejoin="round" d="M1114.2 292 L1116.2 278.8 L1124.5 292"/>
<path fill="none" stroke="#0a0a0a" stroke-width="3.6" stroke-linecap="round" stroke-linejoin="round" d="M1075.8 301.8C1079 300.7 1088.2 296.7 1095 295C1101.8 293.3 1109.6 291.6 1116.8 291.6C1124 291.6 1132 293.3 1138 295C1144 296.7 1150.2 300.7 1152.6 301.8"/>
<path fill="none" stroke="#0a0a0a" stroke-width="3.6" stroke-linecap="round" stroke-linejoin="round" d="M1078.4 308.2C1081.2 307.2 1088.6 303.8 1095 302.5C1101.4 301.2 1109.6 300.6 1116.8 300.6C1124 300.6 1132.2 301.2 1138 302.5C1143.8 303.8 1149.2 307.2 1151.4 308.2"/>
<path fill="none" stroke="#0a0a0a" stroke-width="3.6" stroke-linecap="round" stroke-linejoin="round" d="M1075.8 301.8C1075.8 302.5 1075.2 304.9 1075.6 306C1076 307.1 1077.9 307.8 1078.4 308.2"/>
<path fill="none" stroke="#0a0a0a" stroke-width="3.6" stroke-linecap="round" stroke-linejoin="round" d="M1152.6 301.8C1152.7 302.5 1153.4 304.9 1153.2 306C1153 307.1 1151.7 307.8 1151.4 308.2"/>
<path fill="none" stroke="#0a0a0a" stroke-width="3.8" stroke-linecap="round" stroke-linejoin="round" d="M1079.5 309 L1080.5 350"/>
<path fill="none" stroke="#0a0a0a" stroke-width="3.8" stroke-linecap="round" stroke-linejoin="round" d="M1148.8 309 L1149 350"/>
<path fill="none" stroke="#0a0a0a" stroke-width="3.6" stroke-linecap="round" stroke-linejoin="round" d="M1081 350C1083.4 349.3 1089.5 347 1095.2 346C1100.9 345 1108.8 344.2 1115.4 344.2C1122 344.2 1129.2 345 1134.8 346C1140.4 347 1146.6 349.7 1149 350.4"/>
<path fill="none" stroke="#0a0a0a" stroke-width="3.4" stroke-linecap="round" stroke-linejoin="round" d="M1080.6 349C1080.8 349.7 1081 351.8 1082 353C1083 354.2 1083.9 355.2 1086.4 356.5C1088.9 357.8 1093.2 359.5 1097 360.5C1100.8 361.5 1107.2 362.3 1109.3 362.7"/>
<path fill="none" stroke="#0a0a0a" stroke-width="3.4" stroke-linecap="round" stroke-linejoin="round" d="M1130.4 361C1132 360.6 1137.4 359.5 1140 358.5C1142.6 357.5 1144.5 356.4 1146 355C1147.5 353.6 1148.5 350.8 1149 350"/>
<path fill="none" stroke="#0a0a0a" stroke-width="3.6" stroke-linecap="round" stroke-linejoin="round" d="M1110.2 346.5C1110.1 350.1 1110.1 363.2 1109.7 368C1109.3 372.8 1108.2 372.4 1108 375C1107.8 377.6 1109.1 381.1 1108.4 383.8C1107.7 386.5 1105.5 388.8 1104 391C1102.5 393.2 1100.8 393.5 1099.2 397.2C1097.6 400.9 1095.2 410.5 1094.4 413.2"/>
<path fill="none" stroke="#0a0a0a" stroke-width="3.6" stroke-linecap="round" stroke-linejoin="round" d="M1129.5 346.5C1129.7 350.1 1130 361.6 1130.4 368C1130.8 374.4 1131.9 380.9 1132 385C1132.1 389.1 1130.5 387.7 1131.2 392.4C1131.9 397.1 1135.2 409.7 1136 413.2"/>
<path fill="none" stroke="#0a0a0a" stroke-width="3" stroke-linecap="round" stroke-linejoin="round" d="M1110 371.5C1112 371.4 1120 371.1 1122 371"/>
<path fill="none" stroke="#0a0a0a" stroke-width="2" stroke-linecap="round" stroke-linejoin="round" d="M1110.4 394C1109.9 396.7 1107.7 407.3 1107.2 410"/>
<path fill="none" stroke="#0a0a0a" stroke-width="2" stroke-linecap="round" stroke-linejoin="round" d="M1123.2 394C1123.5 396.7 1124.5 407.3 1124.8 410"/>
<path fill="none" stroke="#0a0a0a" stroke-width="15.5" stroke-linecap="butt" d="M1158 404.5C1168.3 405.8 1204.3 410.3 1220 412.4C1235.7 414.4 1240.7 415.7 1252 416.8C1263.3 417.9 1278 417.2 1288 418.8C1298 420.4 1304.7 423.3 1312 426.4C1319.3 429.5 1325.7 434.2 1332 437.6C1338.3 441 1347 445.4 1350 447"/>
<path fill="none" stroke="#fff" stroke-width="8.5" stroke-linecap="butt" d="M1158 404.5C1168.3 405.8 1204.3 410.3 1220 412.4C1235.7 414.4 1240.7 415.7 1252 416.8C1263.3 417.9 1278 417.2 1288 418.8C1298 420.4 1304.7 423.3 1312 426.4C1319.3 429.5 1325.7 434.2 1332 437.6C1338.3 441 1347 445.4 1350 447"/>
<path fill="none" stroke="#0a0a0a" stroke-width="3.6" stroke-linecap="round" stroke-linejoin="round" d="M1132.8 386 L1150.4 386 L1152 395.6 L1161.6 398.8 L1161.6 411.6 L1152 413.2 L1150.4 416.4"/>
<path fill="none" stroke="#0a0a0a" stroke-width="3.8" stroke-linecap="round" stroke-linejoin="round" d="M1075.2 421.2C1077.3 420.4 1081.3 417.7 1088 416.4C1094.7 415.1 1106.1 413.3 1115.2 413.2C1124.3 413.1 1135.9 414.3 1142.4 415.6C1148.9 416.9 1152.4 420.3 1154.4 421.2"/>
<path fill="none" stroke="#0a0a0a" stroke-width="3.8" stroke-linecap="round" stroke-linejoin="round" d="M1075.2 421.2 L1076 448.4"/>
<path fill="none" stroke="#0a0a0a" stroke-width="3.8" stroke-linecap="round" stroke-linejoin="round" d="M1154.4 421.2 L1155.2 448.4"/>
<path fill="none" stroke="#0a0a0a" stroke-width="3.8" stroke-linecap="round" stroke-linejoin="round" d="M1076 448.4C1078 447.6 1081.5 444.9 1088 443.6C1094.5 442.3 1106.1 440.4 1115.2 440.4C1124.3 440.4 1135.7 442 1142.4 443.6C1149.1 445.2 1153.1 448.9 1155.2 450"/>
<path fill="none" stroke="#0a0a0a" stroke-width="3.2" stroke-linecap="round" stroke-linejoin="round" d="M1078.4 451.6C1080.8 452.9 1087.2 457.7 1092.8 459.6C1098.4 461.5 1108.8 462.3 1112 462.8"/>
<path fill="none" stroke="#0a0a0a" stroke-width="3.2" stroke-linecap="round" stroke-linejoin="round" d="M1129.6 461.2C1131.7 460.7 1138.7 459.2 1142.4 458C1146.1 456.8 1150.4 454.7 1152 454"/>
<path fill="none" stroke="#0a0a0a" stroke-width="2.2" stroke-linecap="round" stroke-linejoin="round" d="M1108.8 442C1109.1 443.6 1109.3 449.7 1110.4 451.6C1111.5 453.5 1113.1 453.2 1115.2 453.2C1117.3 453.2 1121.6 453.5 1123.2 451.6C1124.8 449.7 1124.5 443.6 1124.8 442"/>
<path fill="none" stroke="#0a0a0a" stroke-width="3.8" stroke-linecap="round" stroke-linejoin="round" d="M1079.2 456.4C1079.7 468.7 1081.3 500.4 1082.4 530C1083.5 559.6 1085.1 616.7 1085.6 634"/>
<path fill="none" stroke="#0a0a0a" stroke-width="3.8" stroke-linecap="round" stroke-linejoin="round" d="M1150.4 456.4C1150.3 468.7 1150.1 499.6 1149.6 530C1149.1 560.4 1147.6 620.7 1147.2 638.8"/>
<path fill="none" stroke="#0a0a0a" stroke-width="3.8" stroke-linecap="round" stroke-linejoin="round" d="M1085.6 634C1086 635.1 1084.4 638.3 1088 640.4C1091.6 642.5 1101.3 646 1107.2 646.8C1113.1 647.6 1116.8 646.3 1123.2 645.2C1129.6 644.1 1141.6 641.7 1145.6 640.4C1149.6 639.1 1146.9 637.7 1147.2 637.2"/>
<path fill="none" stroke="#0a0a0a" stroke-width="2.6" stroke-linecap="round" stroke-linejoin="round" d="M1086.4 636.4C1089.3 635.5 1097.9 632 1104 630.8C1110.1 629.6 1120 629.5 1123.2 629.2"/>
<path fill="none" stroke="#0a0a0a" stroke-width="3.6" stroke-linecap="round" stroke-linejoin="round" d="M1105.6 647.6 L1106.4 666 L1110.4 670.8 L1110.4 690 L1112 723.6"/>
<path fill="none" stroke="#0a0a0a" stroke-width="3.6" stroke-linecap="round" stroke-linejoin="round" d="M1129.6 645.2 L1129.6 667.6 L1126.4 670.8 L1125.6 723.6"/>
<path fill="none" stroke="#0a0a0a" stroke-width="3" stroke-linecap="round" stroke-linejoin="round" d="M1110.4 670.8C1112.5 670.7 1121.1 670.1 1123.2 670"/>
<path fill="none" stroke="#0a0a0a" stroke-width="3" stroke-linecap="round" stroke-linejoin="round" d="M1112 691.6C1113.6 691.7 1120 692.3 1121.6 692.4"/>
<path fill="none" stroke="#0a0a0a" stroke-width="3.6" stroke-linecap="round" stroke-linejoin="round" d="M1081.6 733.6 L1112 732.8 L1115.2 740 L1129.6 754.4 L1129.6 900 L1127.2 914.4"/>
<path fill="none" stroke="#0a0a0a" stroke-width="4" stroke-linecap="round" stroke-linejoin="round" d="M1074.4 726.4 L1152 723.2 L1163.2 733.6 L1164.8 738.4 L1160 738.4 L1155.2 732"/>
<path fill="none" stroke="#0a0a0a" stroke-width="4" stroke-linecap="round" stroke-linejoin="round" d="M1074.4 726.4 L1076.8 730.4 L1081.6 733.6 L1084.8 739.2 L1094.4 739.2 L1105.6 900 L1104 900 L1105.6 911.2 L1110.4 915.2 L1126.4 917.6 L1140.8 917.6 L1150.4 920.8 L1152 900"/>
<path fill="none" stroke="#0a0a0a" stroke-width="3.6" stroke-linecap="round" stroke-linejoin="round" d="M1152 730.4 L1142.4 900 L1142.4 900 L1142.4 914.4 L1150.4 920.8"/>
<path fill="none" stroke="#0a0a0a" stroke-width="1.8" stroke-linecap="round" stroke-linejoin="round" d="M1156.8 736.8 L1147.2 900"/>
<path fill="none" stroke="#0a0a0a" stroke-width="3.2" stroke-linecap="round" stroke-linejoin="round" d="M1161.6 738.4 L1152 900"/>
<path fill="none" stroke="#0a0a0a" stroke-width="2.4" stroke-linecap="round" stroke-linejoin="round" d="M1155.2 786.4C1156.8 787.7 1162.8 791.5 1164.8 794.4C1166.8 797.3 1167.2 800.5 1167.2 804C1167.2 807.5 1166.8 812 1164.8 815.2C1162.8 818.4 1156.8 821.9 1155.2 823.2"/>
<path fill="none" stroke="#0a0a0a" stroke-width="1.5" stroke-linecap="round" stroke-linejoin="round" d="M1155.2 796C1155.9 797.3 1159.2 801.3 1159.2 804C1159.2 806.7 1155.9 810.7 1155.2 812"/>
<path fill="none" stroke="#0a0a0a" stroke-width="15.5" stroke-linecap="butt" stroke-linejoin="round" d="M1133.6 918C1132.3 923.7 1128.3 938.3 1125.6 952C1122.9 965.7 1119.4 983.3 1117.6 1000C1115.8 1016.7 1115.2 1033 1114.8 1052C1114.4 1071 1115.1 1093 1115.2 1114C1115.3 1135 1114.9 1162 1115.2 1178C1115.5 1194 1117 1198.4 1117.2 1210C1117.4 1221.6 1116.5 1241.3 1116.4 1247.6"/>
<path fill="none" stroke="#fff" stroke-width="8.7" stroke-linecap="butt" stroke-linejoin="round" d="M1133.6 918C1132.3 923.7 1128.3 938.3 1125.6 952C1122.9 965.7 1119.4 983.3 1117.6 1000C1115.8 1016.7 1115.2 1033 1114.8 1052C1114.4 1071 1115.1 1093 1115.2 1114C1115.3 1135 1114.9 1162 1115.2 1178C1115.5 1194 1117 1198.4 1117.2 1210C1117.4 1221.6 1116.5 1241.3 1116.4 1247.6"/>
<path fill="none" stroke="#0a0a0a" stroke-width="15" stroke-linecap="butt" stroke-linejoin="round" d="M1420 484.8C1428 489.2 1452 501.6 1468 511.2C1484 520.8 1502 532.3 1516 542.4C1530 552.5 1542.5 562 1552 572C1561.5 582 1566.8 591.1 1572.8 602.4C1578.8 613.7 1585 627.1 1588 640C1591 652.9 1591.2 668.8 1590.6 680C1590 691.2 1587.1 699.1 1584.2 707.2C1581.3 715.3 1576.9 720.9 1573 728.8C1569.1 736.7 1565.4 744.9 1560.9 754.4C1556.4 763.9 1548.5 780.7 1546 786"/>
<path fill="none" stroke="#fff" stroke-width="8.2" stroke-linecap="butt" stroke-linejoin="round" d="M1420 484.8C1428 489.2 1452 501.6 1468 511.2C1484 520.8 1502 532.3 1516 542.4C1530 552.5 1542.5 562 1552 572C1561.5 582 1566.8 591.1 1572.8 602.4C1578.8 613.7 1585 627.1 1588 640C1591 652.9 1591.2 668.8 1590.6 680C1590 691.2 1587.1 699.1 1584.2 707.2C1581.3 715.3 1576.9 720.9 1573 728.8C1569.1 736.7 1565.4 744.9 1560.9 754.4C1556.4 763.9 1548.5 780.7 1546 786"/>
<path fill="none" stroke="#0a0a0a" stroke-width="3.4" stroke-linecap="round" stroke-linejoin="round" d="M1348.8 438.2C1351.2 437.8 1357.6 435.4 1363.2 435.4C1368.8 435.4 1376 436.5 1382.4 438.2C1388.8 440 1396 442.6 1401.6 445.9C1407.2 449.3 1412.6 454.4 1416 458.4C1419.4 462.4 1420.8 466.7 1421.8 469.9C1422.7 473.1 1421.8 476.3 1421.8 477.6"/>
<path fill="none" stroke="#0a0a0a" stroke-width="3.4" stroke-linecap="round" stroke-linejoin="round" d="M1344 449.8C1340.2 451.8 1336.6 457.3 1335.4 461.3C1334.1 465.3 1334.1 469.8 1336.3 473.8C1338.6 477.8 1343.5 481.8 1348.8 485.3C1354.1 488.8 1360 492 1368 494.9C1376 497.8 1390.9 501.3 1396.8 502.6C1402.7 503.8 1401.3 503.8 1403.5 502.6C1405.8 501.3 1408.3 498.2 1410.2 494.9C1412.2 491.5 1415.2 486.2 1415 482.4C1414.9 478.6 1412.3 475.4 1409.3 471.8C1406.2 468.3 1402.1 464.5 1396.8 461.3C1391.5 458.1 1384 454.7 1377.6 452.6C1371.2 450.6 1364 449.3 1358.4 448.8C1352.8 448.3 1347.8 447.7 1344 449.8Z"/>
<path fill="none" stroke="#0a0a0a" stroke-width="3" stroke-linecap="round" stroke-linejoin="round" d="M1344 460.3C1344.8 459.8 1346.1 458.1 1348.8 457.4C1351.5 456.8 1355.5 455.8 1360.3 456.5C1365.1 457.1 1371.5 458.9 1377.6 461.3C1383.7 463.7 1392.3 467.8 1396.8 470.9C1401.3 473.9 1402.9 476.5 1404.5 479.5C1406.1 482.6 1406.6 486.2 1406.4 489.1C1406.2 492 1404.6 494.6 1403.5 496.8C1402.4 499 1400.3 501.6 1399.7 502.6"/>
<path fill="none" stroke="#0a0a0a" stroke-width="2.6" stroke-linecap="round" stroke-linejoin="round" d="M1344 460.3C1343.8 461.6 1342.2 465.3 1343 468C1343.8 470.7 1346.2 475 1348.8 476.6C1351.4 478.2 1355.5 478.1 1358.4 477.6C1361.3 477.1 1362.9 474.4 1366.1 473.8C1369.3 473.1 1373.3 473.1 1377.6 473.8C1381.9 474.4 1387.5 475.4 1392 477.6C1396.5 479.8 1402.4 485.6 1404.5 487.2"/>
<path fill="none" stroke="#0a0a0a" stroke-width="2.2" stroke-linecap="round" stroke-linejoin="round" d="M1350.7 461.3C1352.3 462.7 1356.5 467.7 1360.3 469.9C1364.2 472.2 1367.7 474.1 1373.8 474.7C1379.8 475.4 1393 473.9 1396.8 473.8"/>
<path fill="none" stroke="#0a0a0a" stroke-width="2.6" stroke-linecap="round" stroke-linejoin="round" d="M1361.3 460.3C1362.4 461.6 1365.3 466.4 1368 468C1370.7 469.6 1372.8 469.2 1377.6 469.9C1382.4 470.6 1393.6 471.9 1396.8 472.3"/>
<path fill="none" stroke="#0a0a0a" stroke-width="2.2" stroke-linecap="round" stroke-linejoin="round" d="M1370.9 458.4 L1383.4 463.2 L1374.7 465.1Z"/>
<path fill="none" stroke="#0a0a0a" stroke-width="2.2" stroke-linecap="round" stroke-linejoin="round" d="M1360.3 483.4 L1369.9 479.5 L1385.3 493.9Z"/>
<path fill="none" stroke="#0a0a0a" stroke-width="2.6" stroke-linecap="round" stroke-linejoin="round" d="M1372.8 473.8C1375.2 476 1382.9 482.7 1387.2 487.2C1391.5 491.7 1396.8 498.4 1398.7 500.6"/>
<path fill="none" stroke="#0a0a0a" stroke-width="2.6" stroke-linecap="round" stroke-linejoin="round" d="M1412.2 469.9C1412.8 471.2 1414.4 476.3 1416 477.6C1417.6 478.9 1420.8 477.6 1421.8 477.6"/>
<path fill="none" stroke="#0a0a0a" stroke-width="3" stroke-linecap="round" stroke-linejoin="round" d="M1398.7 503.5C1398.2 504 1396.5 504.5 1395.8 506.4C1395.2 508.3 1394.2 513.1 1394.9 515C1395.5 517 1397.8 518.4 1399.7 517.9C1401.6 517.4 1404.3 514.9 1406.4 512.2C1408.5 509.4 1410.7 505.1 1412.2 501.6C1413.6 498.1 1414.6 492.8 1415 491"/>
<path fill="#fff" stroke="#0a0a0a" stroke-width="3.8" stroke-linecap="round" stroke-linejoin="round" d="M1478 906.4 L1465.2 908 L1447.6 917.6 L1409.2 1044 L1407.6 1050.4 L1417.2 1058.4 L1498.8 1082.4 L1508.4 1079.2 L1548.4 948 L1543.6 932 L1537.2 927.2 L1521.2 918.4"/>
<path fill="none" stroke="#0a0a0a" stroke-width="3.4" stroke-linecap="round" stroke-linejoin="round" d="M1417.2 1050.4C1419.3 1050.1 1423.9 1048.3 1430 1048.8C1436.1 1049.3 1444.7 1050.9 1454 1053.6C1463.3 1056.3 1478 1061.1 1486 1064.8C1494 1068.5 1500.7 1073.6 1502 1076C1503.3 1078.4 1502 1080.3 1494 1079.2C1486 1078.1 1466 1073.2 1454 1069.6C1442 1066 1428.1 1060.8 1422 1057.6C1415.9 1054.4 1418 1051.6 1417.2 1050.4C1416.4 1049.2 1415.1 1050.7 1417.2 1050.4Z"/>
<path fill="none" stroke="#0a0a0a" stroke-width="3.2" stroke-linecap="round" stroke-linejoin="round" d="M1478 906.4 L1480 895"/>
<path fill="none" stroke="#0a0a0a" stroke-width="3.2" stroke-linecap="round" stroke-linejoin="round" d="M1521.2 918.4 L1524 905"/>
<path fill="#fff" stroke="#0a0a0a" stroke-width="3.6" stroke-linecap="round" stroke-linejoin="round" d="M1482.2 865.6 L1493.8 862.7 L1553.3 884.8 L1545.6 913.6 L1472.6 888.6Z"/>
<path fill="none" stroke="#0a0a0a" stroke-width="3" stroke-linecap="round" stroke-linejoin="round" d="M1474 888.6C1478.3 889 1488 887.1 1500 891C1512 894.9 1538.3 908.5 1546 912"/>
<path fill="none" stroke="#0a0a0a" stroke-width="2.4" stroke-linecap="round" stroke-linejoin="round" d="M1476 890C1477 891.3 1480.7 895.5 1482 898C1483.3 900.5 1483.7 903.8 1484 905"/>
<path fill="none" stroke="#0a0a0a" stroke-width="2.4" stroke-linecap="round" stroke-linejoin="round" d="M1536 905C1534.7 906.2 1529 910 1528 912C1527 914 1529.7 916.2 1530 917"/>
<path fill="#fff" stroke="#0a0a0a" stroke-width="3" stroke-linecap="round" stroke-linejoin="round" d="M1497.6 898.2 L1484.2 967.4 L1503.4 950.1 L1516.8 905.9"/>
<path fill="none" stroke="#0a0a0a" stroke-width="2.4" stroke-linecap="round" stroke-linejoin="round" d="M1495 898C1496.7 897.5 1500.8 894.3 1505 895C1509.2 895.7 1517.5 900.8 1520 902"/>
<path fill="none" stroke="#0a0a0a" stroke-width="3" stroke-linecap="round" stroke-linejoin="round" d="M1509 856 L1507 866"/>
<path fill="none" stroke="#0a0a0a" stroke-width="3" stroke-linecap="round" stroke-linejoin="round" d="M1532 862 L1530 873"/>
<path fill="none" stroke="#0a0a0a" stroke-width="3.4" stroke-linecap="round" stroke-linejoin="round" d="M1490.9 845.4 L1492.8 852.2 L1511 861.8 L1555.2 871.4"/>
<path fill="none" stroke="#0a0a0a" stroke-width="2.2" stroke-linecap="round" stroke-linejoin="round" d="M1496 851C1497.5 850.7 1502.3 848.2 1505 849C1507.7 849.8 1510.8 854.8 1512 856"/>
<path fill="none" stroke="#0a0a0a" stroke-width="2.2" stroke-linecap="round" stroke-linejoin="round" d="M1527 857C1529.2 857 1536.2 855.5 1540 857C1543.8 858.5 1548.3 864.5 1550 866"/>
<path fill="#fff" stroke="#0a0a0a" stroke-width="3.6" stroke-linecap="round" stroke-linejoin="round" d="M1520.6 785 L1523.6 783 L1568.6 805.1 L1557.1 867.5 L1555.2 871.4 L1522.6 850 L1511 811.8Z"/>
<path fill="none" stroke="#0a0a0a" stroke-width="1.8" stroke-linecap="round" stroke-linejoin="round" d="M1539.8 790.7 L1522.6 848.3"/>
<path fill="none" stroke="#0a0a0a" stroke-width="1.4" stroke-linecap="round" stroke-linejoin="round" d="M1536 789 L1519 846"/>
<path fill="#fff" stroke="#0a0a0a" stroke-width="3.4" stroke-linecap="round" stroke-linejoin="round" d="M1499.5 810.9 L1525.4 815.7 L1531.2 826.2 L1528.3 840.6 L1522.6 847.4 L1491.8 844.5 L1489 836.8 L1493.8 829.1 L1493.8 821.4 L1497.6 817.6Z"/>
<ellipse cx="1507.2" cy="827.5" rx="1.9" ry="2.8" fill="none" stroke="#0a0a0a" stroke-width="1.8"/>
<path fill="#fff" stroke="#0a0a0a" stroke-width="1.8" stroke-linecap="round" stroke-linejoin="round" d="M1541 779 L1546 769 L1552 771 L1548 782Z"/>
<path fill="#0a0a0a" d="M1597 864.4 L1611 866 L1586 960 L1572 956Z"/>
<path fill="#0a0a0a" d="M1563.8 949.1 L1579 955 L1594.6 958.7 L1570.6 982.7Z"/>
</svg>
</body></html>
